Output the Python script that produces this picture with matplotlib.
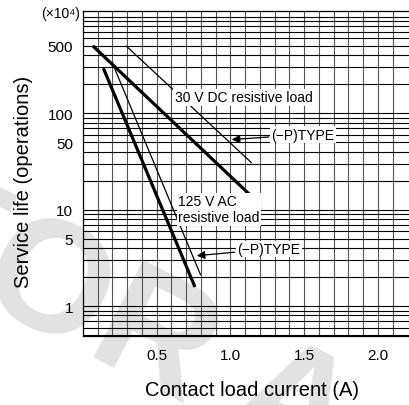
import numpy as np
import matplotlib
matplotlib.use("Agg")
import matplotlib.pyplot as plt
from matplotlib.ticker import FixedLocator, NullFormatter

plt.rcParams['font.family'] = ['Liberation Sans', 'DejaVu Sans']

# service life (x10^4 operations) vs contact load current (A)
dc_x = [0.066, 1.144]
dc_y = [500, 13.7]
dc_p_x = [0.292, 1.144]
dc_p_y = [500, 30.5]
ac_x = [0.138, 0.759]
ac_y = [293, 1.58]
ac_p_x = [0.197, 0.798]
ac_p_y = [338, 2.09]

y_ticks = [1, 5, 10, 50, 100, 500]
y_ticklabels = ['1', '5', '10', '50', '100', '500']
x_ticks = [0.5, 1.0, 1.5, 2.0]
x_ticklabels = ['0.5', '1.0', '1.5', '2.0']

fig = plt.figure(figsize=(4.1, 4.06), dpi=100)
ax = fig.add_axes([83/410, 1 - 337/406, 1 - 83/410, (337 - 12.3)/406])
ax.patch.set_visible(False)

# watermark behind the chart
fig.text(0.30, 0.195, "FOR A", fontsize=115, color='#e2e2e2', rotation=-27,
         ha='center', va='center', zorder=-5, fontweight='bold')

ax.set_yscale('log')
ax.set_xlim(0, 2.217)
ax.set_ylim(0.49, 1140)

minor_y = [k * 10.0**d for d in range(-1, 4) for k in range(1, 10)]
minor_y = [v for v in minor_y if v not in y_ticks]
ax.set_yticks(y_ticks)
ax.set_yticklabels(y_ticklabels)
ax.yaxis.set_minor_locator(FixedLocator(minor_y))
ax.yaxis.set_minor_formatter(NullFormatter())
ax.set_xticks(x_ticks)
ax.set_xticklabels(x_ticklabels)
ax.xaxis.set_minor_locator(FixedLocator(np.arange(1, 22) / 10))
ax.tick_params(which='both', length=0, labelsize=11)
ax.tick_params(axis='x', pad=9)
ax.tick_params(axis='y', pad=7)

ax.grid(axis='y', which='both', color='black', lw=0.8)
ax.grid(axis='x', which='both', color='#555555', lw=0.8)
ax.set_axisbelow(True)
ax.spines['right'].set_visible(False)
for s in ['left', 'bottom', 'top']:
    ax.spines[s].set_linewidth(0.9)

ax.plot(dc_x, dc_y, color='black', lw=2.3, solid_capstyle='butt')
ax.plot(dc_p_x, dc_p_y, color='black', lw=0.9, solid_capstyle='butt')
ax.plot(ac_x, ac_y, color='black', lw=2.3, solid_capstyle='butt')
ax.plot(ac_p_x, ac_p_y, color='black', lw=0.9, solid_capstyle='butt')

box = dict(boxstyle='square,pad=0.1', fc='white', ec='none')
ax.text(1.088, 146, "30 V DC resistive load", fontsize=10, ha='center', va='center', bbox=box)
ax.text(0.644, 10.07, "125 V AC\nresistive load", fontsize=10, ha='left', va='center', bbox=box)
arrow = dict(arrowstyle='-|>', color='black', lw=0.9, mutation_scale=12, shrinkA=1, shrinkB=0)
ax.annotate("(\u2212P)TYPE", xy=(1.008, 53.3), xytext=(1.492, 60), fontsize=10,
            ha='center', va='center', bbox=box, arrowprops=arrow)
ax.annotate("(\u2212P)TYPE", xy=(0.771, 3.33), xytext=(1.261, 3.91), fontsize=10,
            ha='center', va='center', bbox=box, arrowprops=arrow)

ax.set_xlabel("Contact load current (A)", fontsize=14.5)
ax.xaxis.set_label_coords(0.517, -0.135)
ax.set_ylabel("Service life (operations)", fontsize=14.5)
ax.yaxis.set_label_coords(-0.153, 0.477)

fig.text(80/410, 1 - 14/406, "(\u00d710\u2074)", fontsize=10, ha='right', va='center')

fig.savefig("out.png", dpi=100)
